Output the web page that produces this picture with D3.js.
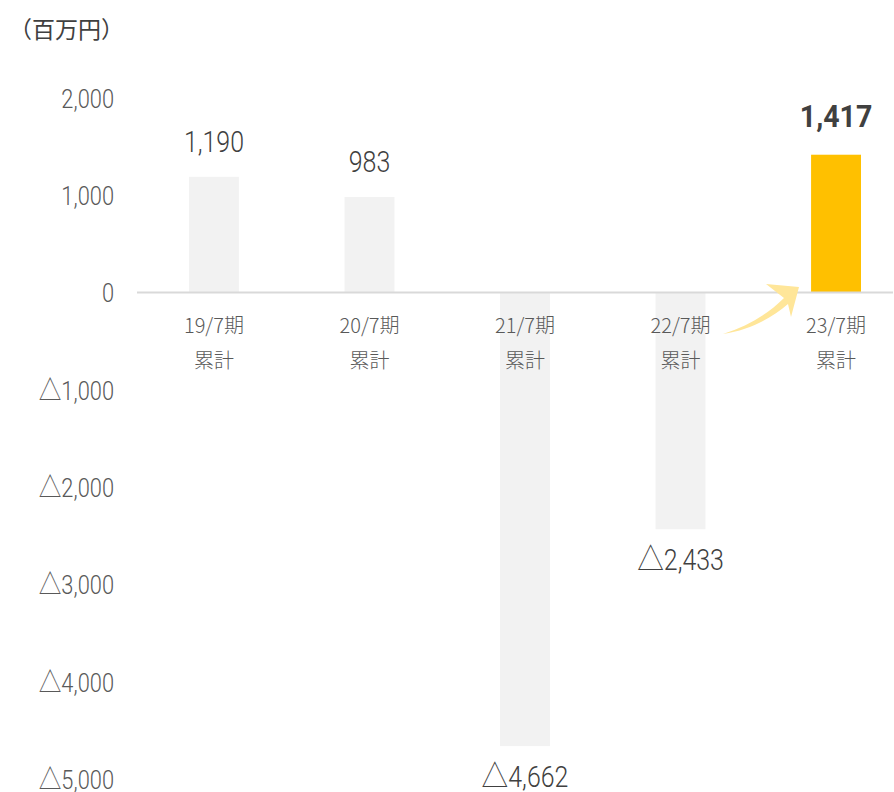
<!DOCTYPE html>
<html><head><meta charset="utf-8">
<script src="https://cdn.jsdelivr.net/npm/d3@7"></script>
<style>body{margin:0;background:#fff}svg{display:block}</style>
</head><body>
<script>
const categories = ["19/7期\n累計","20/7期\n累計","21/7期\n累計","22/7期\n累計","23/7期\n累計"];
const values = [1190, 983, -4662, -2433, 1417];
const highlight = [false, false, false, false, true];
const tickValues = [2000, 1000, 0, -1000, -2000, -3000, -4000, -5000];
const unitLabel = "（百万円）";

const W = 894, H = 792;
const svg = d3.select("body").append("svg").attr("width", W).attr("height", H);
const numFont = "Roboto,'Noto Sans CJK JP',sans-serif";
const cjkFont = "'Noto Sans CJK JP','Noto Sans',sans-serif";
const fmt = v => (v < 0 ? "△" : "") + d3.format(",")(Math.abs(v));

function splitTri(sel, triSize) {
  sel.each(function () {
    const t = d3.select(this), s = t.text();
    if (s.startsWith("△")) {
      t.text(null);
      t.append("tspan").attr("font-family", cjkFont).attr("font-weight", 300).attr("font-size", triSize).text("△");
      t.append("tspan").text(s.slice(1));
    }
  });
}

const y = d3.scaleLinear().domain([-5000, 2000]).range([779, 98]);
const x = d3.scaleBand().domain(categories).range([189, 861]).paddingInner(0.679).paddingOuter(0);

svg.append("text").attr("x", 9).attr("y", 38).attr("font-family", cjkFont).attr("font-size", 23)
  .attr("fill", "#404040").text(unitLabel);

// y axis labels
const yAxis = d3.axisLeft(y).tickValues(tickValues).tickFormat(fmt).tickSize(0).tickPadding(0);
const ga = svg.append("g").attr("transform", "translate(114,0)").call(yAxis);
ga.select(".domain").remove();
ga.selectAll("text").attr("font-family", numFont).attr("font-size", 26).attr("font-weight", 300)
  .attr("fill", "#595959").attr("dy", "0.36em").attr("transform", "scale(0.84,1)");
splitTri(ga.selectAll("text"), 27);

// bars
svg.selectAll("rect.bar").data(values).join("rect").attr("class", "bar")
  .attr("x", (d, i) => x(categories[i]))
  .attr("width", x.bandwidth())
  .attr("y", d => y(Math.max(0, d)))
  .attr("height", d => Math.abs(y(d) - y(0)))
  .attr("fill", (d, i) => highlight[i] ? "#FFC000" : "#F2F2F2");

// zero line
svg.append("line").attr("x1", 137).attr("x2", 893).attr("y1", y(0)).attr("y2", y(0))
  .attr("stroke", "#D9D9D9").attr("stroke-width", 2);

// category labels
categories.forEach((c, i) => {
  const cx = x(c) + x.bandwidth() / 2;
  const t = svg.append("text").attr("y", 333)
    .attr("text-anchor", "middle").attr("font-family", cjkFont).attr("font-size", 20)
    .attr("font-weight", 300).attr("fill", "#595959");
  c.split("\n").forEach((s, j) => t.append("tspan").attr("x", cx).attr("dy", j ? 35 : 0).text(s));
});

// value labels
values.forEach((v, i) => {
  const cx = x(categories[i]) + x.bandwidth() / 2;
  const yy = v >= 0 ? y(v) - (highlight[i] ? 28 : 25) : y(v) + 41;
  const g = svg.append("g").attr("transform", `translate(${cx},${yy})`);
  const t = g.append("text").attr("text-anchor", "middle")
    .attr("font-family", numFont).attr("font-size", highlight[i] ? 31 : 29)
    .attr("font-weight", highlight[i] ? "bold" : 300)
    .attr("transform", highlight[i] ? "scale(0.92,1)" : "scale(0.86,1)")
    .attr("fill", "#404040").text(fmt(v));
  splitTri(t, 31);
});

// arrow
svg.append("path")
  .attr("d", "M723,334 C748,326 768,314 784,298 L766,284 L799,287 L791,317 L788,304 C772,318 750,330 723,334 Z")
  .attr("fill", "#FFE699");
</script>
</body></html>
